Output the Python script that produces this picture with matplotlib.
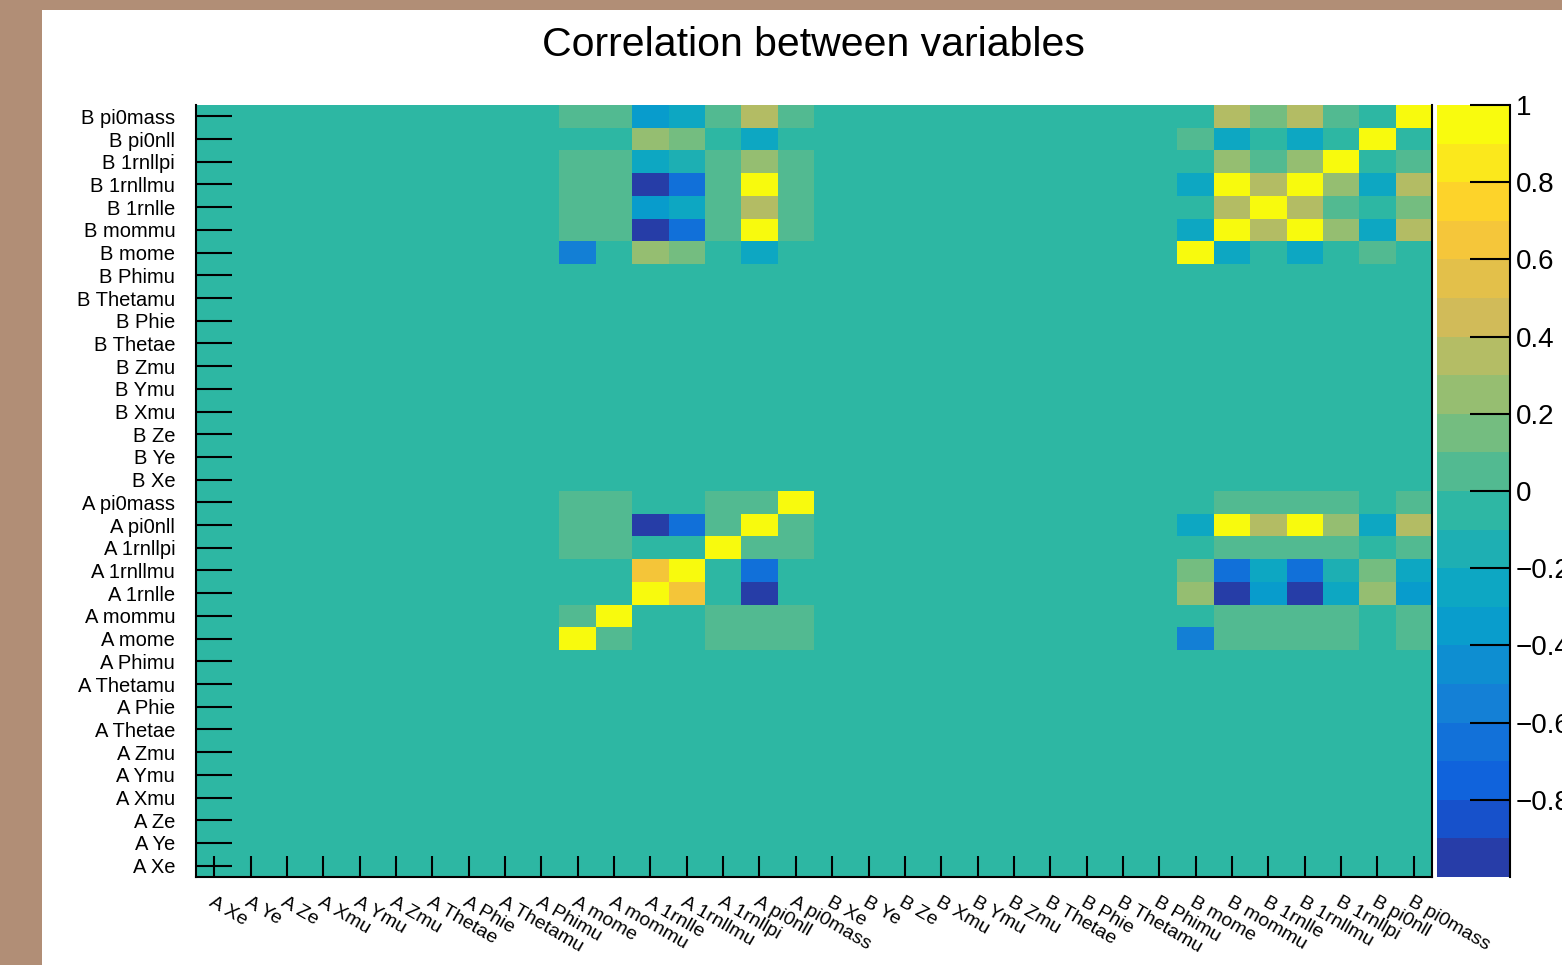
import matplotlib
matplotlib.use("Agg")
import matplotlib.pyplot as plt
import matplotlib.ticker as mticker
from matplotlib.colors import LinearSegmentedColormap, ListedColormap, BoundaryNorm
from matplotlib.patches import Rectangle
import numpy as np

plt.rcParams['font.family'] = ['Liberation Sans', 'DejaVu Sans']

# variable names (same list for detector A and B)
variables = ["Xe", "Ye", "Ze", "Xmu", "Ymu", "Zmu", "Thetae", "Phie", "Thetamu",
             "Phimu", "mome", "mommu", "1rnlle", "1rnllmu", "1rnllpi", "pi0nll", "pi0mass"]
labels = ["A " + v for v in variables] + ["B " + v for v in variables]

# the variables that actually correlate with something
active = ["A mome", "A mommu", "A 1rnlle", "A 1rnllmu", "A 1rnllpi", "A pi0nll", "A pi0mass",
          "B mome", "B mommu", "B 1rnlle", "B 1rnllmu", "B 1rnllpi", "B pi0nll", "B pi0mass"]

# every other cell sits just under zero
baseline = -0.01

# correlations among the active variables
active_corr = [
    # A mome  mommu  1rnlle 1rnllmu 1rnllpi pi0nll pi0mass | B mome mommu 1rnlle 1rnllmu 1rnllpi pi0nll pi0mass
    [1.00,  0.04, -0.01, -0.01,  0.04,  0.04,  0.04,  -0.56,  0.04,  0.04,  0.04,  0.04, -0.01,  0.04],
    [0.04,  1.00, -0.01, -0.01,  0.04,  0.04,  0.04,  -0.01,  0.04,  0.04,  0.04,  0.04, -0.01,  0.04],
    [-0.01, -0.01, 1.00,  0.66, -0.01, -0.93, -0.01,   0.26, -0.93, -0.36, -0.93, -0.26,  0.26, -0.36],
    [-0.01, -0.01, 0.66,  1.00, -0.01, -0.66, -0.01,   0.16, -0.66, -0.26, -0.66, -0.16,  0.16, -0.26],
    [0.04,  0.04, -0.01, -0.01,  1.00,  0.04,  0.04,  -0.01,  0.04,  0.04,  0.04,  0.04, -0.01,  0.04],
    [0.04,  0.04, -0.93, -0.66,  0.04,  1.00,  0.04,  -0.26,  0.95,  0.37,  0.95,  0.26, -0.26,  0.37],
    [0.04,  0.04, -0.01, -0.01,  0.04,  0.04,  1.00,  -0.01,  0.04,  0.04,  0.04,  0.04, -0.01,  0.04],
    [-0.56, -0.01, 0.26,  0.16, -0.01, -0.26, -0.01,   1.00, -0.26, -0.01, -0.26, -0.01,  0.04, -0.01],
    [0.04,  0.04, -0.93, -0.66,  0.04,  0.95,  0.04,  -0.26,  1.00,  0.37,  0.95,  0.26, -0.26,  0.37],
    [0.04,  0.04, -0.36, -0.26,  0.04,  0.37,  0.04,  -0.01,  0.37,  1.00,  0.37,  0.04, -0.01,  0.16],
    [0.04,  0.04, -0.93, -0.66,  0.04,  0.95,  0.04,  -0.26,  0.95,  0.37,  1.00,  0.26, -0.26,  0.37],
    [0.04,  0.04, -0.26, -0.16,  0.04,  0.26,  0.04,  -0.01,  0.26,  0.04,  0.26,  1.00, -0.01,  0.04],
    [-0.01, -0.01, 0.26,  0.16, -0.01, -0.26, -0.01,   0.04, -0.26, -0.01, -0.26, -0.01,  1.00, -0.01],
    [0.04,  0.04, -0.36, -0.26,  0.04,  0.37,  0.04,  -0.01,  0.37,  0.16,  0.37,  0.04, -0.01,  1.00],
]

colorbar_ticks = [-0.8, -0.6, -0.4, -0.2, 0, 0.2, 0.4, 0.6, 0.8, 1]

n = len(labels)
corr = np.full((n, n), baseline)
idx = [labels.index(a) for a in active]
corr[np.ix_(idx, idx)] = np.array(active_corr)

# ROOT kBird palette, 20 contour bands
stops = [0.0, 0.125, 0.25, 0.375, 0.5, 0.625, 0.75, 0.875, 1.0]
red = [0.2082, 0.0592, 0.0780, 0.0232, 0.1802, 0.5301, 0.8186, 0.9956, 0.9764]
green = [0.1664, 0.3599, 0.5041, 0.6419, 0.7178, 0.7492, 0.7328, 0.7862, 0.9832]
blue = [0.5293, 0.8684, 0.8385, 0.7914, 0.6425, 0.4662, 0.3499, 0.1968, 0.0539]
bird = LinearSegmentedColormap.from_list("bird", list(zip(stops, zip(red, green, blue))), N=255)
ndiv = 20
band_pos = [int((i + 0.99) * 255 / ndiv) / 254 for i in range(ndiv)]
cmap = ListedColormap([bird(p) for p in band_pos])
levels = np.linspace(-1, 1, ndiv + 1)
norm = BoundaryNorm(levels, ndiv)

W, H = 1562, 965
fig = plt.figure(figsize=(W / 100, H / 100), dpi=100, facecolor='#b18e76')
fig.add_artist(Rectangle((42 / W, 0), 1 - 42 / W, 1 - 10 / H, transform=fig.transFigure,
                         facecolor='white', edgecolor='none', zorder=0))

ax = fig.add_axes([196 / W, 1 - 877 / H, (1432 - 196) / W, (877 - 105) / H])
cax = fig.add_axes([1437 / W, 1 - 877 / H, (1510 - 1437) / W, (877 - 105) / H])

im = ax.imshow(corr, origin='lower', cmap=cmap, norm=norm, aspect='auto', interpolation='nearest')

ax.set_xticks(range(n))
ax.set_xticklabels(labels, rotation=-30, ha='left', va='top', rotation_mode='anchor', fontsize=14)
ax.set_yticks(range(n))
ax.set_yticklabels(labels, fontsize=14.5)
ax.tick_params(axis='x', direction='in', length=15, width=1.5, pad=12)
ax.tick_params(axis='y', direction='in', length=26, width=1.5, pad=15)
ax.spines['top'].set_visible(False)
for s in ['left', 'bottom', 'right']:
    ax.spines[s].set_linewidth(1.5)

fig.text(0.5205, 0.953, 'Correlation between variables', ha='center', va='center', fontsize=29.5)

cb = fig.colorbar(im, cax=cax, ticks=colorbar_ticks, spacing='proportional',
                  format=mticker.FuncFormatter(lambda v, p: f"{v:g}".replace('-', '\u2212')))
cb.outline.set_visible(False)
cax.yaxis.set_minor_locator(mticker.NullLocator())
cax.tick_params(direction='in', length=29, width=1.5, labelsize=20, pad=4)
cax.plot([1, 1], [0, 1], transform=cax.transAxes, color='black', lw=1.5, clip_on=False)

fig.savefig('out.png', dpi=100, facecolor=fig.get_facecolor())
